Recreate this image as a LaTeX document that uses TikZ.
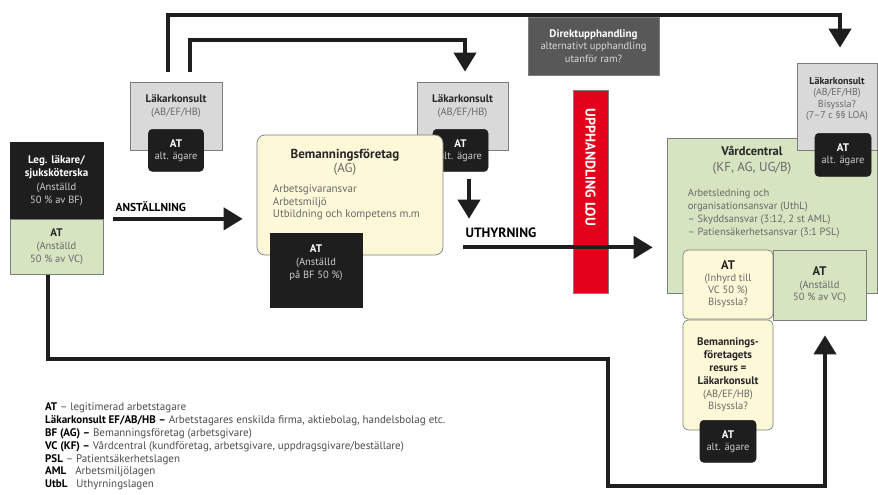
\documentclass[tikz,border=0pt]{standalone}
\usepackage{fontspec}
\setmainfont{PT Sans}
\usetikzlibrary{arrows.meta,positioning,calc}

\definecolor{vcgreen}{RGB}{214,228,193}
\definecolor{bfyellow}{RGB}{253,248,216}
\definecolor{loured}{RGB}{226,0,26}
\definecolor{kgray}{RGB}{217,217,217}
\definecolor{dgray}{RGB}{88,88,88}
\definecolor{atblack}{RGB}{30,30,30}
\definecolor{txtgray}{RGB}{105,105,105}
\definecolor{edgegray}{RGB}{125,125,125}

\newcommand{\hw}[1]{{\color{white}\bfseries\fontsize{11}{12}\selectfont #1}}
\newcommand{\hk}[1]{{\color{black!85}\bfseries\fontsize{11}{12}\selectfont #1}}
\newcommand{\bigk}[1]{{\color{black!85}\bfseries\fontsize{12.5}{13}\selectfont #1}}
\newcommand{\lb}[1]{{\color{black}\bfseries #1}}

\tikzset{
  base/.style={draw=edgegray,line width=0.7pt,inner sep=0pt,align=center,font=\fontsize{10.5}{12}\selectfont},
  kbox/.style={base,fill=kgray},
  blk/.style={base,draw=atblack,fill=atblack,text=black!20},
  atbox/.style={blk,rounded corners=4pt,minimum width=55pt,minimum height=42pt},
  ylw/.style={base,fill=bfyellow,rounded corners=5pt,text=txtgray},
  grn/.style={base,fill=vcgreen,text=txtgray},
  flow/.style={line width=4pt,draw=atblack,-{Triangle[width=22pt,length=19pt]}},
}

\begin{document}
\begin{tikzpicture}[x=1pt,y=-1pt]
\useasboundingbox (0,0) rectangle (878,495);

% left person
\node[blk,minimum width=93pt,minimum height=76pt,font=\fontsize{10.5}{13.5}\selectfont] (leg) at (56.5,180.5)
  {\hw{Leg. läkare/}\\\hw{sjuksköterska}\\(Anställd\\50 \% av BF)};
\node[grn,minimum width=93pt,minimum height=55pt,anchor=north,font=\fontsize{10.5}{13}\selectfont] (legat) at (leg.south)
  {\hk{AT}\\(Anställd\\50 \% av VC)};

% konsult boxes on top
\node[kbox,minimum width=92pt,minimum height=68pt] (lk1) at (176,116) {};
\node[below=13pt of lk1.north,inner sep=0pt,align=center,text=txtgray,font=\fontsize{10.5}{12.5}\selectfont] (lk1t) {\hk{Läkarkonsult}\\(AB/EF/HB)};
\node[atbox] (at1) at (lk1.south) {\hw{AT}\\alt. ägare};

\node[kbox,minimum width=91pt,minimum height=68pt] (lk2) at (462.5,116) {};
\node[below=13pt of lk2.north,inner sep=0pt,align=center,text=txtgray,font=\fontsize{10.5}{12.5}\selectfont] (lk2t) {\hk{Läkarkonsult}\\(AB/EF/HB)};
\node[atbox] (at2) at ([xshift=-2pt]lk2.south) {\hw{AT}\\alt. ägare};

% bemanningsforetag
\node[ylw,rounded corners=8pt,minimum width=186pt,minimum height=120pt] (bem) at (350,195) {};
\node[below=14pt of bem.north,xshift=-5pt,inner sep=0pt,align=center,text=txtgray,font=\fontsize{13}{14}\selectfont] (bemt)
  {{\color{black!85}\bfseries\fontsize{13}{14}\selectfont Bemanningsföretag}\\(AG)};
\node[anchor=north west,inner sep=0pt,align=left,text=txtgray,font=\fontsize{11}{12.5}\selectfont] (beml) at ([xshift=16pt,yshift=-50pt]bem.north west)
  {Arbetsgivaransvar\\Arbetsmiljö\\Utbildning och kompetens m.m};
\node[blk,minimum width=92pt,minimum height=74pt] (atbf) at (316,270) {};
\node[inner sep=0pt,align=center,text=black!20,font=\fontsize{10.5}{13}\selectfont] (atbft) at ([yshift=7pt]atbf.center)
  {\hw{AT}\\(Anställd\\på BF 50 \%)};

% upphandling
\node[fill=loured,draw=edgegray,line width=0.5pt,minimum width=35pt,minimum height=203pt] (lou) at (590.5,191.5) {};
\node[rotate=-90,anchor=west,inner sep=0pt,text=white,font=\bfseries\fontsize{14}{15}\selectfont] (lout) at ([yshift=-19pt]lou.north) {UPPHANDLING LOU};
\node[fill=dgray,draw=edgegray,line width=0.5pt,minimum width=131pt,minimum height=58pt,align=center,text=black!15,font=\fontsize{10.5}{12.5}\selectfont] (direkt) at (593.5,46)
  {\hw{Direktupphandling}\\alternativt upphandling\\utanför ram?};

% vardcentral
\node[grn,minimum width=210pt,minimum height=155pt] (vc) at (772,215.5) {};
\node[below=8pt of vc.north,xshift=-20pt,inner sep=0pt,align=center,text=txtgray,font=\fontsize{13}{16}\selectfont] (vct)
  {{\color{black!85}\bfseries\fontsize{12.5}{16}\selectfont Vårdcentral}\\(KF, AG, UG/B)};
\node[anchor=north west,inner sep=0pt,align=left,text=txtgray,font=\fontsize{10.5}{13}\selectfont] (vcl) at ([xshift=21pt,yshift=-51pt]vc.north west)
  {Arbetsledning och\\organisationsansvar (UthL)\\– Skyddsansvar (3:12, 2 st AML)\\– Patiensäkerhetsansvar (3:1 PSL)};

\node[kbox,minimum width=80pt,minimum height=87pt] (lk3) at (837,106.5) {};
\node[below=14pt of lk3.north,inner sep=0pt,align=center,text=txtgray,font=\fontsize{10}{11.5}\selectfont] (lk3t)
  {{\color{black!85}\bfseries Läkarkonsult}\\(AB/EF/HB)\\Bisyssla?\\(7–7 c §§ LOA)};
\node[atbox,minimum width=56pt,minimum height=43pt] (at3) at ([xshift=6pt,yshift=-4.5pt]lk3.south) {\hw{AT}\\alt. ägare};

\node[ylw,minimum width=90pt,minimum height=69pt] (atin) at (728,284.5) {\bigk{AT}\\(Inhyrd till\\VC 50 \%)\\Bisyssla?};
\node[grn,minimum width=93pt,minimum height=70pt,font=\fontsize{10.5}{12.5}\selectfont] (atvc) at (819.5,285) {\bigk{AT}\\(Anställd\\50 \% av VC)};
\node[ylw,minimum width=90pt,minimum height=110pt,font=\fontsize{10.5}{12.8}\selectfont] (bres) at (728,375)
  {\hk{Bemannings-}\\\hk{företagets}\\\hk{resurs =}\\\hk{Läkarkonsult}\\(AB/EF/HB)\\Bisyssla?};
\node[atbox,minimum width=56pt] (at4) at ([yshift=-11pt]bres.south) {\hw{AT}\\alt. ägare};

% arrows
\draw[flow] ([xshift=-8pt,yshift=10pt]lk1.north) -- ++(0,-57) -| ([xshift=3pt,yshift=15pt]lk3.north);
\draw[flow] ([xshift=14pt,yshift=10pt]lk1.north) -- ++(0,-32) -| ([xshift=2.5pt,yshift=10pt]lk2.north);
\draw[flow] ([xshift=10pt]leg.south east) coordinate (a1) -- ($(bem.west |- a1)+(-14,0)$);
\node[anchor=south west,inner sep=0pt,font=\bfseries\fontsize{11.5}{13}\selectfont] (anst) at ([xshift=2pt,yshift=7pt]a1) {ANSTÄLLNING};
\draw[flow] ([xshift=8.5pt,yshift=-7pt]at2.south) -- ++(0,40);
\draw[flow] ([xshift=20pt,yshift=8pt]bem.south east) coordinate (u1) -- ($(vc.west |- u1)+(-14,0)$);
\node[anchor=south west,inner sep=0pt,font=\bfseries\fontsize{13.5}{15}\selectfont] (uthyr) at ([xshift=2pt,yshift=9pt]u1) {UTHYRNING};
\draw[flow] ([xshift=-9pt]legat.south) -- ++(0,84) -| ++(560,127) -| ([xshift=5.5pt,yshift=-15pt]atvc.south);

% legend
\node[anchor=north west,inner sep=0pt,align=left,text=black!70,font=\fontsize{11}{12.8}\selectfont] (legend) at (45,403)
  {\lb{AT} – legitimerad arbetstagare\\
   \lb{Läkarkonsult EF/AB/HB –} Arbetstagares enskilda firma, aktiebolag, handelsbolag etc.\\
   \lb{BF (AG) –} Bemanningsföretag (arbetsgivare)\\
   \lb{VC (KF) –} Vårdcentral (kundföretag, arbetsgivare, uppdragsgivare/beställare)\\
   \lb{PSL} – Patientsäkerhetslagen\\
   \lb{AML}\hspace{9pt}Arbetsmiljölagen\\
   \lb{UtbL}\hspace{9pt}Uthyrningslagen};
\end{tikzpicture}
\end{document}
